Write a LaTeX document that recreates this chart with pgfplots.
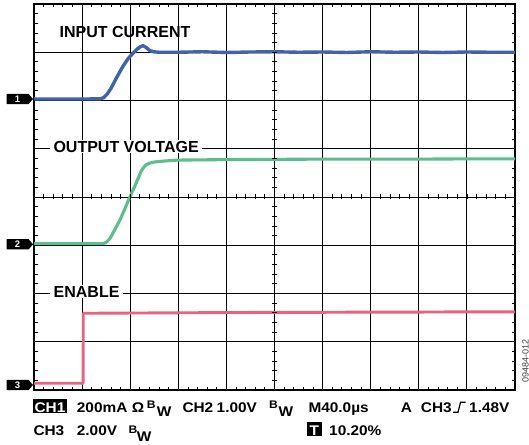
\documentclass[border=0pt]{standalone}
\usepackage{fontspec}
\setmainfont{Liberation Sans}
\newfontfamily\scopefont[FakeStretch=1.1]{Liberation Sans}
\usepackage{pgfplots}
\pgfplotsset{compat=1.18}
\definecolor{ch1}{HTML}{4163A8}
\definecolor{ch2}{HTML}{5CBE8C}
\definecolor{ch3}{HTML}{E8637F}
\begin{document}
\begin{tikzpicture}[x=1pt,y=1pt]
\useasboundingbox (0,0) rectangle (529,444);
\begin{axis}[at={(34pt,54pt)}, anchor=south west, scale only axis,
  width=481pt, height=386pt, xmin=0, xmax=10, ymin=0, ymax=8,
  xtick={0,...,10}, ytick={0,...,8}, xticklabels={}, yticklabels={},
  grid=major, grid style={black, line width=0.85pt},
  axis line style={line width=1.5pt},
  tick pos=both, tick align=inside, major tick length=0pt,
  minor tick num=4, minor tick length=3.5pt,
  minor tick style={line width=0.8pt, black}, clip=true]
\addplot[ch1, line width=3.4pt, line join=round] coordinates {
(0,6.03) (0.5,6.03) (1.0,6.03) (1.38,6.035) (1.45,6.06) (1.52,6.13) (1.6,6.25)
(1.72,6.48) (1.85,6.71) (1.95,6.86) (2.05,6.97) (2.15,7.07) (2.22,7.12) (2.27,7.135)
(2.33,7.10) (2.40,7.04) (2.48,7.01) (2.6,7.0) (3.0,7.0) (3.5,7.01) (4.0,6.995)
(4.5,7.005) (5.0,7.01) (5.5,7.0) (6.0,7.005) (6.5,6.995) (7.0,7.01) (7.5,7.0)
(8.0,7.005) (8.5,6.995) (9.0,7.005) (9.5,7.0) (10,7.0)};
\addplot[ch2, line width=3.1pt, line join=round] coordinates {
(0,3.035) (1.0,3.035) (1.44,3.035) (1.5,3.06) (1.58,3.14) (1.7,3.36) (1.8,3.55)
(1.98,3.97) (2.12,4.28) (2.24,4.56) (2.32,4.66) (2.4,4.70) (2.5,4.725) (2.7,4.745)
(3.0,4.765) (4.0,4.775) (5.0,4.78) (6.0,4.785) (7.0,4.785) (8.0,4.785) (9.0,4.79) (10,4.79)};
\addplot[ch3, line width=2.9pt, line join=round] coordinates {
(0,0.14) (1.02,0.14) (1.025,1.59) (2,1.595) (3,1.60) (4,1.605) (5,1.61)
(6,1.61) (7,1.615) (8,1.615) (9,1.62) (10,1.62)};
\end{axis}
% centre graticule ticks
\foreach \i in {1,...,39} { \draw[line width=0.8pt] (272,54+\i*9.65) -- ++(5,0); }
\foreach \i in {1,...,49} { \draw[line width=0.8pt] (34+\i*9.62,244.5) -- ++(0,5); }
% trace labels
\node[anchor=base west, inner sep=0pt, font=\fontsize{16}{16}\selectfont\bfseries] at (59.5,406.7) {INPUT CURRENT};
\node[anchor=base west, inner xsep=3.3pt, inner ysep=1pt, fill=white, font=\fontsize{16}{16}\selectfont\bfseries] at (50,291.7) {OUTPUT VOLTAGE};
\node[anchor=base west, inner xsep=3.5pt, inner ysep=1pt, fill=white, font=\fontsize{16}{16}\selectfont\bfseries] at (50,146.7) {ENABLE};
% channel markers
\foreach \c/\n in {345/1, 199.7/2, 59/3} {
  \fill (6.5,\c-5.2) -- (28.5,\c-5.2) -- (33,\c) -- (28.5,\c+5.2) -- (6.5,\c+5.2) -- cycle;
  \node[white, inner sep=0pt, font=\fontsize{9.5}{9.5}\selectfont\bfseries] at (17.5,\c) {\n};
}
% bottom readout
\fill (33,30.7) rectangle (67,45);
\node[white, inner sep=0pt, anchor=base, font=\scopefont\fontsize{14}{14}\selectfont\bfseries] at (50,31.7) {CH1};
\begin{scope}[every node/.style={anchor=base west, inner sep=0pt, font=\scopefont\fontsize{14}{14}\selectfont\bfseries}]
\node at (76.7,31.7) {200mA};
\node at (131.7,31.7) {Ω};
\node[font=\scopefont\fontsize{11}{11}\selectfont\bfseries] at (146.7,35.7) {B};
\node at (156.7,27.3) {W};
\node at (182.3,31.7) {CH2};
\node at (216.5,31.7) {1.00V};
\node[font=\scopefont\fontsize{11}{11}\selectfont\bfseries] at (269,35.7) {B};
\node at (278.3,27.3) {W};
\node at (308.3,31.7) {M40.0µs};
\node at (400.7,31.7) {A};
\node at (420.7,31.7) {CH3};
\node at (469,31.7) {1.48V};
\node at (33.3,9) {CH3};
\node at (76.7,9) {2.00V};
\node[font=\scopefont\fontsize{11}{11}\selectfont\bfseries] at (128.3,10.7) {B};
\node at (136.7,2.3) {W};
\node at (329,9) {10.20\%};
\end{scope}
\draw[line width=1.2pt] (453,31.7) -- (458,31.7) -- (460.5,41.7) -- (465.7,41.7);
\fill (306.7,8) rectangle (321.7,22);
\node[white, inner sep=0pt, anchor=base, font=\scopefont\fontsize{14}{14}\selectfont\bfseries] at (314.2,9) {T};
% figure code
\node[rotate=90, inner sep=0pt, text=black!75, font=\fontsize{9}{9}\selectfont] at (525.5,83) {09484-012};
\end{tikzpicture}
\end{document}
